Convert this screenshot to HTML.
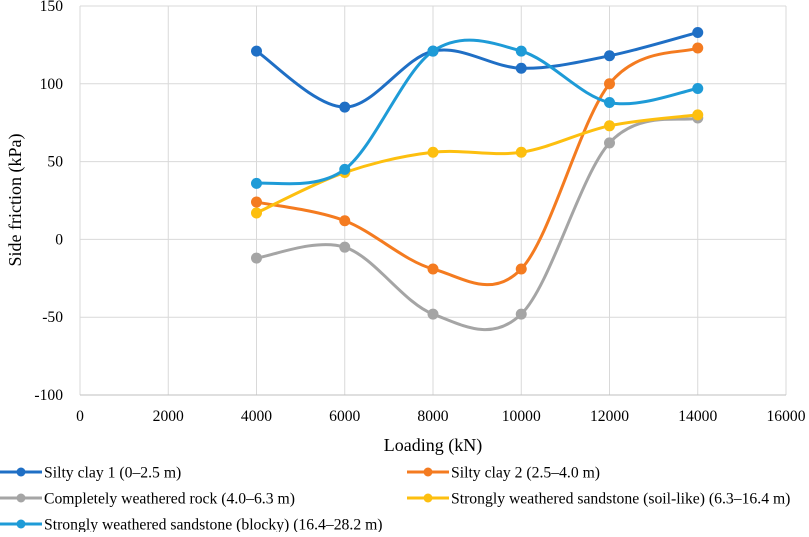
<!DOCTYPE html>
<html><head><meta charset="utf-8"><style>
body{margin:0;background:#fff;width:809px;height:532px;overflow:hidden;font-family:"Liberation Serif","Times New Roman",serif}
svg text{font-family:"Liberation Serif","Times New Roman",serif !important}
</style></head><body>
<svg id="chart" width="809" height="532" font-family="Liberation Serif, serif" xmlns="http://www.w3.org/2000/svg">
<g id="grid"></g>
<g id="series"></g>
<g id="axes"></g>
<g transform="translate(433,451) scale(1.2)"><text x="0" y="0" font-size="15" font-family="Liberation Serif, serif" text-anchor="middle">Loading (kN)</text></g>
<g transform="translate(21,200) rotate(-90) scale(1.2)"><text x="0" y="0" font-size="15" font-family="Liberation Serif, serif" text-anchor="middle">Side friction (kPa)</text></g>
<g id="legend"></g>
</svg>
<script>
const categories=[4000,6000,8000,10000,12000,14000];
const seriesNames=["Silty clay 1 (0–2.5 m)","Silty clay 2 (2.5–4.0 m)","Completely weathered rock (4.0–6.3 m)","Strongly weathered sandstone (soil-like) (6.3–16.4 m)","Strongly weathered sandstone (blocky) (16.4–28.2 m)"];
const silty1=[121,85,121,110,118,133];
const silty2=[24,12,-19,-19,100,123];
const weathered=[-12,-5,-48,-48,62,78];
const soilLike=[17,43,56,56,73,80];
const blocky=[36,45,121,121,88,97];
const xTicks=[0,2000,4000,6000,8000,10000,12000,14000,16000];
const yTicks=[-100,-50,0,50,100,150];
const colors=["#1f6fc5","#f47b20","#a5a5a5","#fdbf0f","#1e9bd7"];
const allSeries=[silty1,silty2,weathered,soilLike,blocky];
const NS="http://www.w3.org/2000/svg";
const FF="Liberation Serif, serif";
const X0=80,X1=786,Y0=395,Y1=6;
const xs=v=>X0+(v-0)/(16000)*(X1-X0);
const ys=v=>Y0-(v+100)/250*(Y0-Y1);
function mk(t,a,p){const e=document.createElementNS(NS,t);for(const k in a)e.setAttribute(k,a[k]);p.appendChild(e);return e;}
const grid=document.getElementById('grid'),axes=document.getElementById('axes');
xTicks.forEach(t=>{
 const l=mk('line',{x1:xs(t),x2:xs(t),y1:Y1,y2:Y0,stroke:'#d9d9d9','stroke-width':1},grid);
 
 const g=mk('g',{},axes);
 
 
 const tx=mk('text',{x:xs(t),y:421,'font-size':15.6,'font-family':FF,'text-anchor':'middle'},g);tx.textContent=t;
});
yTicks.forEach(t=>{
 const l=mk('line',{x1:X0,x2:X1,y1:ys(t),y2:ys(t),stroke:t===-100?'#bfbfbf':'#d9d9d9','stroke-width':1},grid);
 
 const g=mk('g',{},axes);
 
 
 const tx=mk('text',{x:63,y:ys(t)+5,'font-size':15.6,'font-family':FF,'text-anchor':'end'},g);tx.textContent=t;
});
const sg=document.getElementById('series');
function smooth(pts){let d=`M${pts[0][0]},${pts[0][1]}`;for(let i=0;i<pts.length-1;i++){const p0=pts[i-1]||pts[i],p1=pts[i],p2=pts[i+1],p3=pts[i+2]||p2;const c1=[p1[0]+(p2[0]-p0[0])/6,p1[1]+(p2[1]-p0[1])/6],c2=[p2[0]-(p3[0]-p1[0])/6,p2[1]-(p3[1]-p1[1])/6];d+=` C${c1[0]},${c1[1]} ${c2[0]},${c2[1]} ${p2[0]},${p2[1]}`;}return d;}
allSeries.forEach((s,si)=>{
 const pts=s.map((v,i)=>[xs(categories[i]),ys(v)]);
 const p=mk('path',{d:smooth(pts),fill:'none',stroke:colors[si],'stroke-width':3},sg);
 
 pts.forEach(q=>{const c=mk('circle',{cx:q[0],cy:q[1],r:5.5,fill:colors[si]},sg);
 });
});
const lg=document.getElementById('legend');
const pos=[[0,472],[407,472],[0,498],[407,498],[0,524]];
seriesNames.forEach((n,i)=>{
 const [x,y]=pos[i];
 const g=mk('g',{},lg);
 
 mk('line',{x1:x,x2:x+42,y1:y,y2:y,stroke:colors[i],'stroke-width':3},g);
 mk('circle',{cx:x+21,cy:y,r:4.5,fill:colors[i]},g);
 const t=mk('text',{x:x+44,y:y+5.5,'font-size':15.7,'font-family':FF},g);t.textContent=n;
});
</script>
</body></html>
